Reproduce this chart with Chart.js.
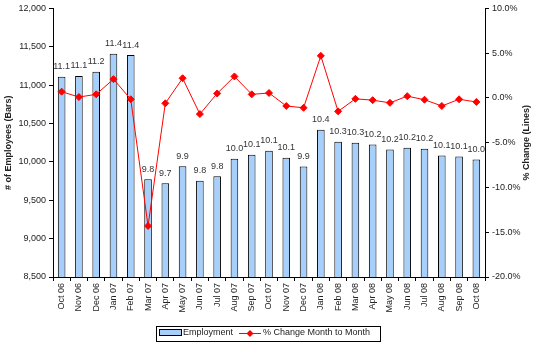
<!DOCTYPE html>
<html>
<head>
<meta charset="utf-8">
<script src="https://cdn.jsdelivr.net/npm/chart.js@4"></script>
<style>
  html, body { margin: 0; padding: 0; background: #fff; }
  #wrap { width: 535px; height: 343px; }
</style>
</head>
<body>
<div id="wrap"><canvas id="chart" width="535" height="343"></canvas></div>
<script>
const months = ['Oct 06', 'Nov 06', 'Dec 06', 'Jan 07', 'Feb 07', 'Mar 07', 'Apr 07', 'May 07', 'Jun 07',
  'Jul 07', 'Aug 07', 'Sep 07', 'Oct 07', 'Nov 07', 'Dec 07', 'Jan 08', 'Feb 08', 'Mar 08', 'Apr 08',
  'May 08', 'Jun 08', 'Jul 08', 'Aug 08', 'Sep 08', 'Oct 08']
const employment = [11110, 11120, 11175, 11410, 11392, 9773, 9720, 9942, 9755,
  9812, 10041, 10093, 10145, 10054, 9940, 10418, 10262, 10250, 10227,
  10160, 10184, 10170, 10084, 10071, 10030]
const pctChange = [0.7, 0.1, 0.4, 2.1, -0.15, -14.3, -0.6, 2.2, -1.8,
  0.5, 2.4, 0.4, 0.55, -0.9, -1.1, 4.7, -1.5, -0.1, -0.25,
  -0.55, 0.2, -0.2, -0.9, -0.15, -0.45]

const barFill = '#a6d0fb'
const red = '#ff0000'
const textColor = '#222'
const font9 = { family: 'Liberation Sans, Arial, sans-serif', size: 9 }

// ── etiquetas, títulos y leyenda ──
const extras = {
  id: 'extras',
  afterDatasetsDraw(chart) {
    const ctx = chart.ctx
    const meta = chart.getDatasetMeta(1)
    ctx.save()
    ctx.font = '9px "Liberation Sans", Arial, sans-serif'
    ctx.fillStyle = '#333'
    ctx.textAlign = 'center'
    ctx.textBaseline = 'middle'
    meta.data.forEach((bar, i) => {
      ctx.fillText((employment[i] / 1000).toFixed(1), bar.x, bar.y - 10)
    })
    ctx.restore()
  },
  afterDraw(chart) {
    const ctx = chart.ctx
    const a = chart.chartArea
    const midY = (a.top + a.bottom) / 2
    ctx.save()
    ctx.fillStyle = textColor
    ctx.font = 'bold 9px "Liberation Sans", Arial, sans-serif'
    ctx.textAlign = 'center'
    ctx.textBaseline = 'middle'
    ctx.translate(9, midY)
    ctx.rotate(-Math.PI / 2)
    ctx.fillText('# of Employees (Bars)', 0, 0)
    ctx.restore()

    ctx.save()
    ctx.fillStyle = textColor
    ctx.font = 'bold 9px "Liberation Sans", Arial, sans-serif'
    ctx.textAlign = 'center'
    ctx.textBaseline = 'middle'
    ctx.translate(527, midY)
    ctx.rotate(-Math.PI / 2)
    ctx.fillText('% Change (Lines)', 0, 0)
    ctx.restore()

    // leyenda
    ctx.save()
    ctx.strokeStyle = '#000'
    ctx.lineWidth = 1
    ctx.strokeRect(156.5, 326.5, 224, 15)
    ctx.fillStyle = barFill
    ctx.fillRect(159.5, 329.5, 22, 6)
    ctx.strokeRect(159.5, 329.5, 22, 6)
    ctx.font = '9px "Liberation Sans", Arial, sans-serif'
    ctx.fillStyle = textColor
    ctx.textBaseline = 'middle'
    ctx.textAlign = 'left'
    ctx.fillText('Employment', 183, 333)
    ctx.strokeStyle = red
    ctx.beginPath()
    ctx.moveTo(239, 333.5)
    ctx.lineTo(261, 333.5)
    ctx.stroke()
    ctx.fillStyle = red
    ctx.beginPath()
    ctx.moveTo(250, 330)
    ctx.lineTo(253.5, 333.5)
    ctx.lineTo(250, 337)
    ctx.lineTo(246.5, 333.5)
    ctx.closePath()
    ctx.fill()
    ctx.fillStyle = textColor
    ctx.fillText('% Change Month to Month', 263, 333)
    ctx.restore()
  }
}

new Chart(document.getElementById('chart'), {
  type: 'bar',
  data: {
    labels: months,
    datasets: [
      {
        type: 'line',
        label: '% Change Month to Month',
        data: pctChange,
        yAxisID: 'y1',
        borderColor: red,
        borderWidth: 1,
        backgroundColor: red,
        pointStyle: 'rectRot',
        pointRadius: 3.5,
        pointBackgroundColor: red,
        pointBorderColor: red,
        tension: 0,
        order: 0
      },
      {
        label: 'Employment',
        data: employment,
        yAxisID: 'y',
        backgroundColor: barFill,
        borderColor: '#000',
        borderWidth: 1,
        categoryPercentage: 1,
        barPercentage: 0.44,
        order: 1
      }
    ]
  },
  options: {
    responsive: false,
    animation: false,
    layout: { padding: { top: 7.5, left: 0, right: 0, bottom: 0 } },
    scales: {
      x: {
        afterFit: s => { s.height = 66 },
        grid: { drawOnChartArea: false, tickLength: 4, color: '#000', offset: true },
        border: { color: '#000' },
        ticks: { color: textColor, font: font9, maxRotation: 90, minRotation: 90, padding: 2, autoSkip: false }
      },
      y: {
        position: 'left',
        min: 8500,
        max: 12000,
        afterFit: s => { s.width = 53 },
        grid: { drawOnChartArea: false, tickLength: 4, color: '#000' },
        border: { color: '#000' },
        ticks: {
          stepSize: 500,
          color: textColor,
          font: font9,
          padding: 3,
          callback: v => v.toLocaleString('en-US')
        }
      },
      y1: {
        position: 'right',
        min: -20,
        max: 10,
        afterFit: s => { s.width = 50 },
        grid: { drawOnChartArea: false, tickLength: 4, color: '#000' },
        border: { color: '#000' },
        ticks: {
          stepSize: 5,
          color: textColor,
          font: font9,
          padding: 3,
          callback: v => v.toFixed(1) + '%'
        }
      }
    },
    plugins: {
      legend: { display: false },
      tooltip: { enabled: false }
    }
  },
  plugins: [extras]
})
</script>
</body>
</html>
